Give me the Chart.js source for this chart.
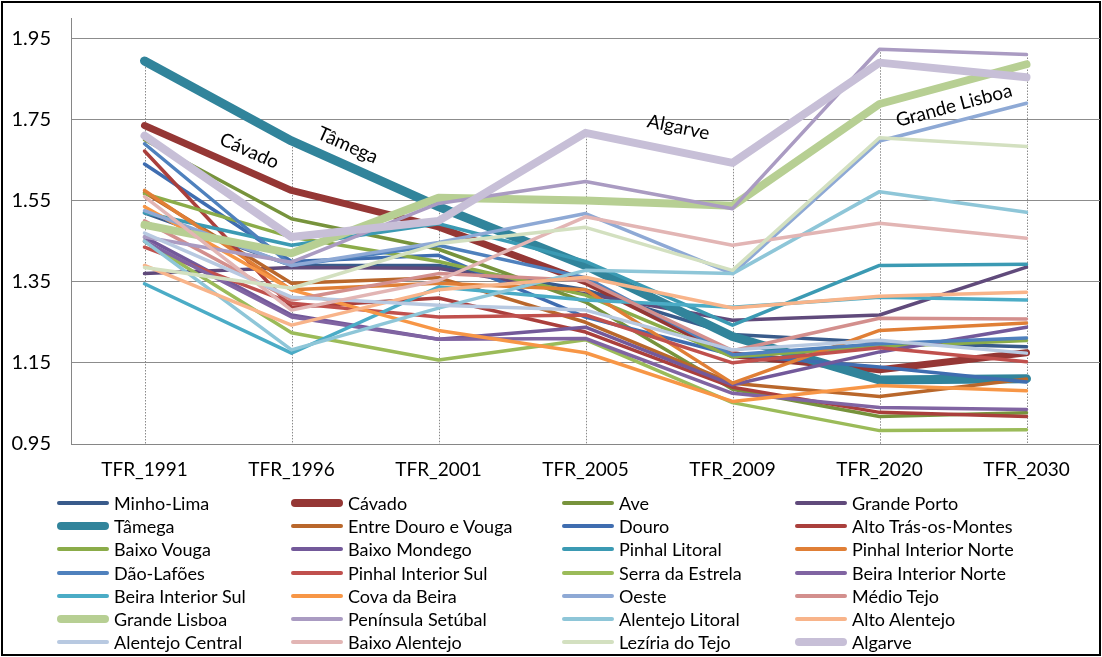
<!DOCTYPE html>
<html>
<head>
<meta charset="utf-8">
<script src="https://cdn.jsdelivr.net/npm/chart.js@4.4.1/dist/chart.umd.min.js"></script>
<style>
  html, body { margin: 0; padding: 0; background: #fff; }
  #frame {
    position: absolute; left: 1px; top: 1px; width: 1100px; height: 655px;
    border: 2px solid #000; box-sizing: border-box; background: #fff;
  }
  #plot { position: absolute; left: 3px; top: -17px; width: 1094px; height: 498px; }
  #legend {
    position: absolute; left: 0; top: 0; width: 1100px; height: 655px;
    font-family: Lato, "Noto Sans", sans-serif; font-size: 18px; color: #000;
  }
  .item { position: absolute; height: 22px; line-height: 22px; white-space: nowrap; }
  .swatch { position: absolute; left: 0; top: 50%; width: 52px; border-radius: 4px; }
  .label { position: absolute; left: 57px; top: 0; }
</style>
</head>
<body>
<div id="frame">
  <div id="plot"><canvas id="chart"></canvas></div>
  <div id="legend"></div>
</div>
<script>
const categories = ['TFR_1991', 'TFR_1996', 'TFR_2001', 'TFR_2005', 'TFR_2009', 'TFR_2020', 'TFR_2030'];
const yTicks = [0.95, 1.15, 1.35, 1.55, 1.75, 1.95];

// one row per NUTS III region, values for each census/projection year
const minhoLima          = [1.52, 1.39, 1.39, 1.33, 1.22, 1.20, 1.19];
const cavado             = [1.735, 1.575, 1.485, 1.35, 1.17, 1.133, 1.175];
const ave                = [1.70, 1.505, 1.43, 1.30, 1.085, 1.018, 1.027];
const grandePorto        = [1.37, 1.385, 1.383, 1.32, 1.255, 1.268, 1.386];
const tamega             = [1.894, 1.697, 1.535, 1.39, 1.215, 1.108, 1.111];
const entreDouroVouga    = [1.57, 1.346, 1.36, 1.25, 1.10, 1.067, 1.11];
const douro              = [1.64, 1.40, 1.415, 1.263, 1.17, 1.14, 1.103];
const altoTrasMontes     = [1.672, 1.287, 1.31, 1.226, 1.09, 1.028, 1.018];
const baixoVouga         = [1.567, 1.46, 1.40, 1.317, 1.165, 1.19, 1.205];
const baixoMondego       = [1.46, 1.268, 1.208, 1.238, 1.096, 1.177, 1.238];
const pinhalLitoral      = [1.52, 1.44, 1.493, 1.40, 1.243, 1.39, 1.393];
const pinhalIntNorte     = [1.575, 1.33, 1.346, 1.33, 1.10, 1.23, 1.248];
const daoLafoes          = [1.69, 1.39, 1.44, 1.36, 1.17, 1.197, 1.211];
const pinhalIntSul       = [1.435, 1.297, 1.263, 1.268, 1.15, 1.187, 1.153];
const serraEstrela       = [1.45, 1.224, 1.157, 1.207, 1.052, 0.983, 0.985];
const beiraIntNorte      = [1.45, 1.263, 1.208, 1.21, 1.075, 1.04, 1.035];
const beiraIntSul        = [1.345, 1.174, 1.337, 1.305, 1.287, 1.312, 1.305];
const covaBeira          = [1.535, 1.33, 1.23, 1.175, 1.055, 1.094, 1.081];
const oeste              = [1.525, 1.39, 1.447, 1.518, 1.37, 1.697, 1.79];
const medioTejo          = [1.50, 1.305, 1.37, 1.353, 1.18, 1.26, 1.258];
const grandeLisboa       = [1.49, 1.42, 1.557, 1.55, 1.537, 1.788, 1.886];
const peninsulaSetubal   = [1.46, 1.398, 1.543, 1.597, 1.53, 1.923, 1.91];
const alentejoLitoral    = [1.45, 1.182, 1.285, 1.378, 1.37, 1.572, 1.521];
const altoAlentejo       = [1.39, 1.243, 1.33, 1.361, 1.285, 1.314, 1.324];
const alentejoCentral    = [1.47, 1.312, 1.292, 1.28, 1.182, 1.206, 1.174];
const baixoAlentejo      = [1.56, 1.28, 1.353, 1.51, 1.44, 1.494, 1.457];
const leziriaTejo        = [1.385, 1.334, 1.444, 1.484, 1.378, 1.705, 1.683];
const algarve            = [1.71, 1.46, 1.50, 1.717, 1.643, 1.89, 1.854];

const seriesNames = [
  'Minho-Lima', 'Cávado', 'Ave', 'Grande Porto',
  'Tâmega', 'Entre Douro e Vouga', 'Douro', 'Alto Trás-os-Montes',
  'Baixo Vouga', 'Baixo Mondego', 'Pinhal Litoral', 'Pinhal Interior Norte',
  'Dão-Lafões', 'Pinhal Interior Sul', 'Serra da Estrela', 'Beira Interior Norte',
  'Beira Interior Sul', 'Cova da Beira', 'Oeste', 'Médio Tejo',
  'Grande Lisboa', 'Península Setúbal', 'Alentejo Litoral', 'Alto Alentejo',
  'Alentejo Central', 'Baixo Alentejo', 'Lezíria do Tejo', 'Algarve'
];
const seriesValues = [
  minhoLima, cavado, ave, grandePorto,
  tamega, entreDouroVouga, douro, altoTrasMontes,
  baixoVouga, baixoMondego, pinhalLitoral, pinhalIntNorte,
  daoLafoes, pinhalIntSul, serraEstrela, beiraIntNorte,
  beiraIntSul, covaBeira, oeste, medioTejo,
  grandeLisboa, peninsulaSetubal, alentejoLitoral, altoAlentejo,
  alentejoCentral, baixoAlentejo, leziriaTejo, algarve
];
const seriesColors = [
  '#395B8B', '#953735', '#77933C', '#604A7B',
  '#31849B', '#B9672B', '#3F6DB0', '#AA3F3C',
  '#8BAC49', '#73599A', '#3B9AB3', '#E07F36',
  '#4F81BD', '#C0504D', '#9BBB59', '#8064A2',
  '#4BACC6', '#F79646', '#8EA9D5', '#D38F8D',
  '#B7CF93', '#AA9BC2', '#8EC6D8', '#F8B48A',
  '#B8C9E1', '#E2B5B4', '#D3E0C0', '#C7BFD7'
];
const thickLines = { 'Tâmega': 9, 'Cávado': 7, 'Grande Lisboa': 8, 'Algarve': 8 };

// rotated labels drawn along a segment of some series
const lineLabels = [
  { name: 'Cávado', seg: 0, t: 0.66, off: -19 },
  { name: 'Tâmega', seg: 1, t: 0.33, off: -19 },
  { name: 'Algarve', seg: 3, t: 0.60, off: -24 },
  { name: 'Grande Lisboa', seg: 5, t: 0.47, off: 21 }
];

const FONT = 'Lato, "Noto Sans", sans-serif';

const datasets = seriesNames.map((name, i) => ({
  label: name,
  data: seriesValues[i],
  borderColor: seriesColors[i],
  backgroundColor: seriesColors[i],
  borderWidth: thickLines[name] || 3.5,
  borderCapStyle: 'round',
  borderJoinStyle: 'round',
  pointRadius: 0,
  tension: 0,
  fill: false,
  order: seriesNames.length - i
}));

const dropLines = {
  id: 'dropLines',
  beforeDatasetsDraw(chart) {
    const ctx = chart.ctx;
    const area = chart.chartArea;
    const metas = chart.getSortedVisibleDatasetMetas();
    ctx.save();
    ctx.strokeStyle = '#8a8a8a';
    ctx.lineWidth = 1;
    ctx.setLineDash([1.5, 1.5]);
    categories.forEach((c, k) => {
      let top = area.bottom;
      metas.forEach(m => { if (m.data[k]) top = Math.min(top, m.data[k].y); });
      const x = Math.round(metas[0].data[k].x) + 0.5;
      ctx.beginPath();
      ctx.moveTo(x, top);
      ctx.lineTo(x, area.bottom);
      ctx.stroke();
    });
    ctx.restore();
  }
};

const seriesLabels = {
  id: 'seriesLabels',
  afterDatasetsDraw(chart) {
    const ctx = chart.ctx;
    ctx.save();
    ctx.font = '19px ' + FONT;
    ctx.fillStyle = '#000';
    ctx.textAlign = 'center';
    ctx.textBaseline = 'middle';
    lineLabels.forEach(l => {
      const idx = seriesNames.indexOf(l.name);
      const pts = chart.getDatasetMeta(idx).data;
      const p0 = pts[l.seg], p1 = pts[l.seg + 1];
      const x = p0.x + l.t * (p1.x - p0.x);
      const y = p0.y + l.t * (p1.y - p0.y);
      const a = Math.atan2(p1.y - p0.y, p1.x - p0.x);
      ctx.save();
      ctx.translate(x, y);
      ctx.rotate(a);
      ctx.fillText(l.name, 0, l.off);
      ctx.restore();
    });
    ctx.restore();
  }
};

new Chart(document.getElementById('chart'), {
  type: 'line',
  data: { labels: categories, datasets: datasets },
  options: {
    responsive: true,
    maintainAspectRatio: false,
    animation: false,
    layout: { padding: 0 },
    plugins: { legend: { display: false }, tooltip: { enabled: false } },
    scales: {
      x: {
        offset: true,
        grid: { display: false },
        border: { display: true, color: '#868686', width: 1 },
        ticks: { color: '#000', font: { family: FONT, size: 19 }, padding: 6, maxRotation: 0 },
        afterFit(scale) { scale.height = 40; }
      },
      y: {
        min: 0.95,
        max: 2.0,
        afterBuildTicks(scale) { scale.ticks = yTicks.map(v => ({ value: v })); },
        grid: { color: '#8c8c8c', lineWidth: 1, drawTicks: false },
        border: { display: true, color: '#868686', width: 1 },
        ticks: {
          color: '#000', font: { family: FONT, size: 20 }, padding: 20,
          callback: v => v.toFixed(2)
        },
        afterFit(scale) { scale.width = 65; }
      }
    }
  },
  plugins: [dropLines, seriesLabels]
});

// legend in 4 columns, row-major like the original
const legendCols = [54, 288, 559, 792];
const legendTop = 489;
const legendRowStep = 23.2;
const legendBox = document.getElementById('legend');
seriesNames.forEach((name, i) => {
  const col = i % 4, row = Math.floor(i / 4);
  const item = document.createElement('div');
  item.className = 'item';
  item.style.left = legendCols[col] + 'px';
  item.style.top = (legendTop + row * legendRowStep) + 'px';
  const sw = document.createElement('div');
  sw.className = 'swatch';
  const h = thickLines[name] ? 8 : 4;
  sw.style.height = h + 'px';
  sw.style.marginTop = (-h / 2) + 'px';
  sw.style.background = seriesColors[i];
  const lb = document.createElement('span');
  lb.className = 'label';
  lb.textContent = name;
  item.appendChild(sw);
  item.appendChild(lb);
  legendBox.appendChild(item);
});
</script>
</body>
</html>
